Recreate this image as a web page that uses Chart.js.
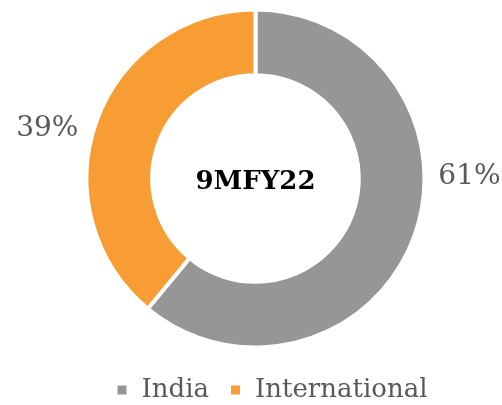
<!DOCTYPE html>
<html>
<head>
<meta charset="utf-8">
<script src="https://cdn.jsdelivr.net/npm/chart.js@4.4.0/dist/chart.umd.min.js"></script>
<style>
html,body{margin:0;padding:0;background:#fff;}
#wrap{width:502px;height:405px;position:relative;}
</style>
</head>
<body>
<div id="wrap"><canvas id="c" width="502" height="405"></canvas></div>
<script>
const categories = ["India", "International"];
const shares = [61, 39];
const colors = ["#969696", "#F79D34"];
const centerTitle = "9MFY22";

const FONT = "'DejaVu Serif', serif";

const labelPlugin = {
  id: 'outLabels',
  afterLayout(chart) {
    const o = chart.options.plugins.outLabels;
    const lg = chart.legend;
    if (lg) {
      lg.left += o.legendShift[0]; lg.right += o.legendShift[0];
      lg.top += o.legendShift[1]; lg.bottom += o.legendShift[1];
    }
  },
  afterDatasetsDraw(chart) {
    const ctx = chart.ctx;
    const meta = chart.getDatasetMeta(0);
    const opts = chart.options.plugins.outLabels;
    ctx.save();
    ctx.font = "28px " + FONT;
    ctx.fillStyle = "#595959";
    ctx.textBaseline = "middle";
    meta.data.forEach((arc, i) => {
      const p = arc.getProps(['x','y','startAngle','endAngle','outerRadius'], true);
      const mid = (p.startAngle + p.endAngle) / 2;
      const a = mid + opts.angleShift[i];
      const r = p.outerRadius + opts.gap;
      const x = p.x + Math.cos(a) * r;
      const y = p.y + Math.sin(a) * r;
      ctx.textAlign = 'center';
      ctx.fillText(shares[i] + "%", x, y);
    });
    const a0 = meta.data[0];
    ctx.font = "bold 26px " + FONT;
    ctx.fillStyle = "#000";
    ctx.textAlign = 'center';
    ctx.fillText(centerTitle, a0.x, a0.y + 4);
    ctx.restore();
  }
};

new Chart(document.getElementById('c'), {
  type: 'doughnut',
  data: {
    labels: categories,
    datasets: [{
      data: shares,
      backgroundColor: colors,
      borderColor: '#ffffff',
      borderWidth: 4,
      hoverOffset: 0,
      radius: 169,
      cutout: 103
    }]
  },
  options: {
    responsive: false,
    animation: false,
    layout: { padding: { top: 8, left: 9, right: 0, bottom: 0 } },
    plugins: {
      tooltip: { enabled: false },
      outLabels: { angleShift: [-0.355, -0.113], gap: 45, legendShift: [16, 8] },
      legend: {
        position: 'bottom',
        labels: {
          boxWidth: 13,
          boxHeight: 13,
          padding: 20,
          color: '#595959',
          font: { family: FONT, size: 26 }
        }
      }
    }
  },
  plugins: [labelPlugin]
});
</script>
</body>
</html>
